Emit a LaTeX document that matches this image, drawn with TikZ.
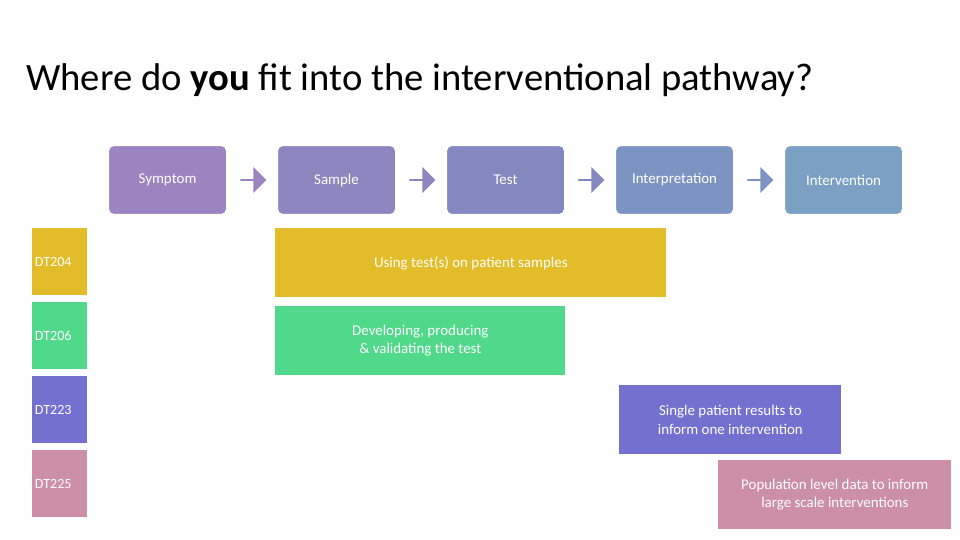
\documentclass[tikz,border=0pt]{standalone}
\usepackage{fontspec}
\setmainfont{Carlito}
\usetikzlibrary{shapes.arrows}
\definecolor{symptom}{HTML}{9B84C0}
\definecolor{sample}{HTML}{8E86BF}
\definecolor{test}{HTML}{8488C0}
\definecolor{interp}{HTML}{7D94C2}
\definecolor{interv}{HTML}{7BA0C4}
\definecolor{gold}{HTML}{E3BC2A}
\definecolor{mint}{HTML}{50D98A}
\definecolor{violet}{HTML}{7370D0}
\definecolor{rose}{HTML}{CC8FA6}
\tikzset{
  stage/.style={draw=white,line width=0.6pt,rounded corners=3pt,minimum width=118\unitlength,minimum height=69\unitlength,text=white,font=\fontsize{8.5}{10}\selectfont,anchor=north west,inner sep=0pt},
  tag/.style={fill=#1,minimum width=55\unitlength,minimum height=67\unitlength,anchor=north west,text=white,font=\fontsize{8}{10}\selectfont,align=left,text width=50\unitlength,inner sep=0pt},
  bar/.style={fill=#1,anchor=north west,text=white,font=\fontsize{8.5}{10.5}\selectfont,align=center,inner sep=0pt},
  go/.style={single arrow,fill=#1,minimum height=26\unitlength,single arrow head extend=3pt,minimum width=26\unitlength,inner sep=0pt,single arrow tip angle=90}
}
\begin{document}
\setlength{\unitlength}{0.02cm}
\begin{tikzpicture}[x=0.02cm,y=-0.02cm]
\useasboundingbox (0,0) rectangle (960,540);
\node[anchor=west,font=\fontsize{22}{26}\selectfont] (title) at (20,80) {Where do \textbf{you} fit into the interventional pathway?};
% pathway
\node[stage,fill=symptom] (symptom) at (108,145) {Symptom};
\node[stage,fill=sample] (sample) at (277,145) {Sample};
\node[stage,fill=test] (test) at (446,145) {Test};
\node[stage,fill=interp] (interp) at (615,145) {Interpretation};
\node[stage,fill=interv] (interv) at (784,145) {Intervention};
\node[go=symptom] (a1) at (253,180) {};
\node[go=sample] (a2) at (422,180) {};
\node[go=test] (a3) at (591,180) {};
\node[go=interp] (a4) at (760,180) {};
% modules
\node[tag=gold] (dt204) at (32,228) {DT204};
\node[tag=mint] (dt206) at (32,302) {DT206};
\node[tag=violet] (dt223) at (32,376) {DT223};
\node[tag=rose] (dt225) at (32,450) {DT225};
% scopes
\node[bar=gold,minimum width=391\unitlength,minimum height=69\unitlength] (using) at (275,228) {Using test(s) on patient samples};
\node[bar=mint,minimum width=290\unitlength,minimum height=69\unitlength] (develop) at (275,306) {Developing, producing\\\& validating the test};
\node[bar=violet,minimum width=222\unitlength,minimum height=69\unitlength] (single) at (619,385) {Single patient results to\\inform one intervention};
\node[bar=rose,minimum width=233\unitlength,minimum height=69\unitlength] (population) at (718,460) {Population level data to inform\\large scale interventions};
\end{tikzpicture}
\end{document}
